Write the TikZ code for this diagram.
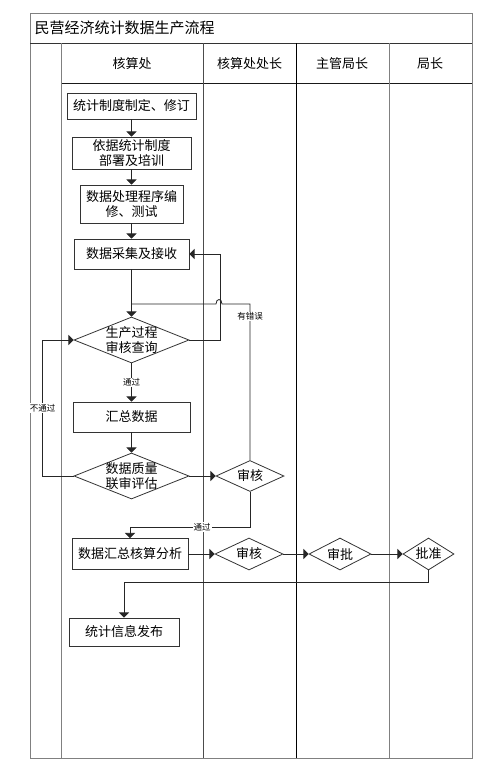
\documentclass[tikz,border=0pt]{standalone}
\usepackage{fontspec}
\setmainfont{Noto Sans CJK SC}
\usepackage{tikz}
\usetikzlibrary{calc}
\usetikzlibrary{arrows}
\usetikzlibrary{shapes.geometric}
\usetikzlibrary{positioning}
\tikzset{lane/.style={draw=black!50, line width=0.9pt}}

\begin{document}
\begin{tikzpicture}[x=1pt, y=-1pt]
\useasboundingbox (0,0) rectangle (498,772);
\tikzstyle{flow} = [-triangle 90, line width=0.8pt, draw=black!85]
\tikzstyle{wire} = [line width=0.8pt, draw=black!85]
\tikzset{proc/.style={rectangle, draw=black!80, line width=0.8pt, inner sep=0pt, align=center, font=\fontsize{13}{15}\selectfont}}
\tikzset{check/.style={diamond, draw=black!80, line width=0.8pt, inner sep=-9pt, align=center, font=\fontsize{13}{15}\selectfont}}
\tikzset{tag/.style={fill=white, inner sep=1pt, font=\fontsize{8.5}{9}\selectfont}}
\tikzset{head/.style={font=\fontsize{13}{13}\selectfont}}

% frame and lanes
\draw[lane] (30,13) rectangle (472,758);
\draw[lane, draw=black!80] (30,43) -- (472,43);
\draw[lane, draw=black!90] (61,83) -- (472,83);
\draw[lane] (61,43) -- (61,758);
\draw[lane, draw=black!70] (203,43) -- (203,758);
\draw[lane, draw=black] (296,43) -- (296,758);
\draw[lane] (389,43) -- (389,758);

\node[anchor=west, font=\fontsize{15}{15}\selectfont] (title) at (31,28) {民营经济统计数据生产流程};
\node[head] (h1) at (132,64) {核算处};
\node[head] (h2) at (249.5,64) {核算处处长};
\node[head] (h3) at (342,64) {主管局长};
\node[head] (h4) at (430,64) {局长};

\node[proc, minimum width=129pt, minimum height=26pt] (rule) at (131.5,106) {统计制度制定、修订};
\node[proc, minimum width=119pt, minimum height=32pt] (train) at (131.5,153) {依据统计制度\\部署及培训};
\node[proc, minimum width=103pt, minimum height=38pt] (prog) at (131.5,204) {数据处理程序编\\修、测试};
\node[proc, minimum width=115pt, minimum height=30pt] (collect) at (131.5,254) {数据采集及接收};
\node[check, minimum width=115pt, minimum height=46pt] (audit) at (131.5,340) {生产过程\\审核查询};
\node[proc, minimum width=117pt, minimum height=30pt] (sum) at (131.5,417) {汇总数据};
\node[check, minimum width=115pt, minimum height=46pt] (joint) at (131.5,476) {数据质量\\联审评估};
\node[check, minimum width=68pt, minimum height=31pt] (chk1) at (250,476) {审核};

\node[proc, minimum width=116pt, minimum height=31pt] (acct) at (130,554) {数据汇总核算分析};
\node[check, minimum width=68pt, minimum height=32pt] (chk2) at (249,554) {审核};
\node[check, minimum width=62pt, minimum height=32pt] (appr) at (340,554) {审批};
\node[check, minimum width=51pt, minimum height=32pt] (ok) at (428.5,554) {批准};
\node[proc, minimum width=110pt, minimum height=28pt] (pub) at (124,632) {统计信息发布};

\draw[flow] (rule) -- (train);
\draw[flow] (train) -- (prog);
\draw[flow] (prog) -- (collect);
\draw[flow] (collect) -- (audit);
\draw[flow] (audit) -- node[tag]{通过} (sum);
\draw[flow] (sum) -- (joint);
\draw[flow] (audit.east) -- ++(31,0) |- (collect.east);
\draw[flow] (joint.west) -- ++(-31,0) |- node[tag, pos=0.25]{不通过} (audit.west);
\draw[flow] (joint.east) -- (chk1.west);

\coordinate (err) at (131.5,304);
\draw[wire] (chk1.north) -- node[tag, pos=0.92]{有错误} (chk1.north |- err) -- (222,304)
  .. controls (222,298) and (216,298) .. (216,304) -- (err);
\draw[flow] (chk1.south) -- ++(0,35) -| node[tag, pos=0.2]{通过} (acct.north);

\draw[flow] (acct) -- (chk2);
\draw[flow] (chk2) -- (appr);
\draw[flow] (appr) -- (ok);
\draw[flow] (ok.south) -- ++(0,12) -| (pub.north);
\end{tikzpicture}
\end{document}
